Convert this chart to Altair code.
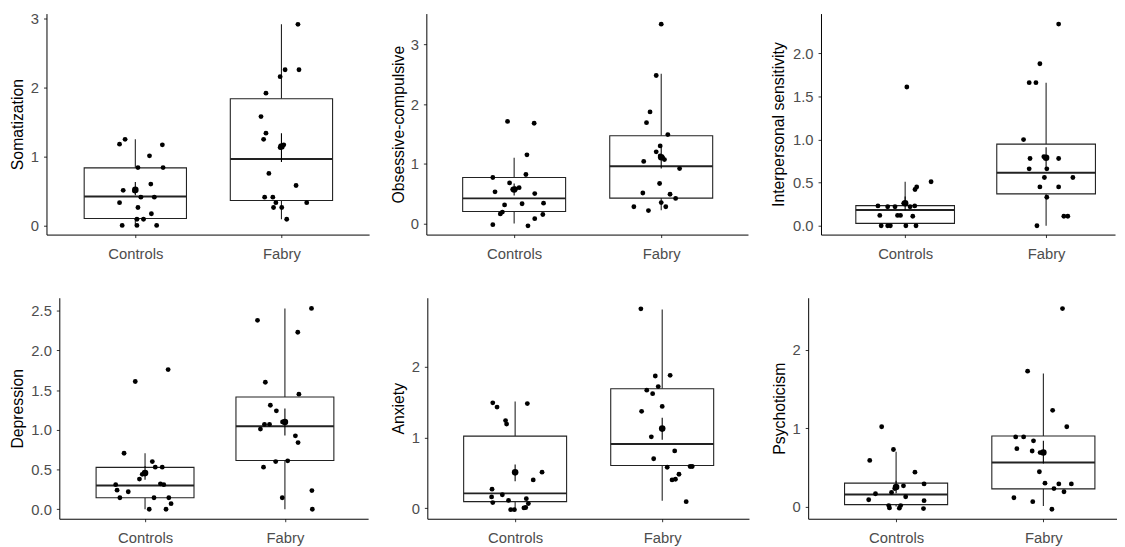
import altair as alt
import pandas as pd

GROUPS = ["Controls", "Fabry"]

# ---------------- point values (y) and horizontal jitter (in group units) ----------------
SOM_CTRL = [1.18, 1.25, 1.17, 1.01, 0.84, 0.84, 0.60, 0.51, 0.50, 0.41, 0.41, 0.33, 0.26, 0.17, 0.09, 0.09, 0.0, 0.0, 0.0]
SOM_CTRL_JIT = [-0.108, -0.07, 0.185, 0.097, 0.018, 0.19, 0.106, -0.083, -0.005, 0.038, 0.13, -0.108, 0.018, 0.11, 0.011, 0.056, -0.09, 0.011, 0.146]
SOM_FAB = [2.92, 2.26, 2.26, 2.16, 1.92, 1.58, 1.34, 1.25, 1.17, 1.13, 0.755, 0.58, 0.41, 0.41, 0.33, 0.33, 0.26, 0.26, 0.09]
SOM_FAB_JIT = [0.113, 0.025, 0.12, -0.009, -0.106, -0.14, -0.106, -0.122, 0.016, -0.009, -0.086, 0.10, -0.115, -0.059, -0.038, 0.173, -0.054, 0.002, 0.036]

OC_CTRL = [1.71, 1.68, 1.15, 0.82, 0.77, 0.68, 0.60, 0.57, 0.58, 0.53, 0.50, 0.33, 0.34, 0.31, 0.19, 0.16, 0.15, 0.08, -0.02, -0.04]
OC_CTRL_JIT = [-0.045, 0.136, 0.087, 0.08, -0.145, -0.031, 0.034, -0.01, 0.01, -0.13, 0.14, 0.054, 0.2, -0.065, -0.08, -0.094, 0.195, 0.14, -0.145, 0.094]
OC_FAB = [3.34, 2.48, 1.87, 1.69, 1.49, 1.30, 1.20, 1.13, 1.10, 1.07, 1.04, 0.92, 0.67, 0.51, 0.49, 0.42, 0.35, 0.28, 0.28, 0.215]
OC_FAB_JIT = [0.0, -0.034, -0.076, -0.10, 0.045, -0.007, -0.034, -0.007, 0.01, 0.022, -0.119, 0.125, -0.011, -0.125, 0.06, 0.098, 0.0, -0.186, 0.031, -0.087]

IS_CTRL = [1.61, 0.51, 0.45, 0.42, 0.26, 0.23, 0.22, 0.22, 0.22, 0.23, 0.12, 0.12, 0.12, 0.11, 0.0, 0.0, 0.0, 0.0, 0.0]
IS_CTRL_JIT = [0.012, 0.184, 0.082, 0.07, -0.01, -0.193, -0.124, -0.072, 0.035, 0.068, -0.18, -0.054, -0.033, 0.054, -0.17, -0.124, -0.105, 0.005, 0.077]
IS_FAB = [2.34, 1.88, 1.66, 1.66, 1.00, 0.78, 0.80, 0.79, 0.78, 0.66, 0.66, 0.56, 0.56, 0.45, 0.45, 0.33, 0.11, 0.11, 0.0]
IS_FAB_JIT = [0.089, -0.044, -0.12, -0.072, -0.16, -0.114, -0.016, 0.0, 0.089, -0.12, 0.005, -0.012, 0.19, -0.044, 0.089, 0.005, 0.126, 0.154, -0.065]

DEP_CTRL = [1.76, 1.61, 0.705, 0.60, 0.44, 0.45, 0.53, 0.53, 0.38, 0.31, 0.32, 0.31, 0.24, 0.22, 0.145, 0.145, 0.145, 0.07, 0.0, 0.0]
DEP_CTRL_JIT = [0.165, -0.07, -0.15, 0.052, -0.02, 0.0, 0.073, 0.123, -0.04, -0.21, 0.11, 0.134, -0.20, -0.12, -0.18, 0.064, 0.17, 0.186, 0.03, 0.15]
DEP_FAB = [2.53, 2.38, 2.23, 1.60, 1.45, 1.31, 1.24, 1.10, 1.07, 1.07, 1.01, 0.925, 0.84, 0.60, 0.61, 0.53, 0.235, 0.145, 0.0]
DEP_FAB_JIT = [0.19, -0.196, 0.092, -0.14, 0.1, -0.104, -0.061, -0.017, -0.146, -0.11, -0.175, 0.075, 0.094, -0.066, 0.02, -0.153, 0.193, -0.019, 0.196]

ANX_CTRL = [1.49, 1.48, 1.43, 1.24, 1.19, 0.51, 0.40, 0.27, 0.16, 0.19, 0.11, 0.135, 0.08, 0.065, 0.005, 0.01, -0.02, -0.02]
ANX_CTRL_JIT = [-0.152, 0.083, -0.123, -0.065, -0.058, 0.183, 0.123, -0.157, -0.16, -0.087, -0.045, 0.076, -0.152, 0.09, 0.06, 0.072, -0.03, -0.005]
ANX_FAB = [2.82, 1.88, 1.87, 1.72, 1.67, 1.62, 1.44, 1.37, 1.12, 1.01, 0.81, 0.70, 0.58, 0.59, 0.59, 0.48, 0.40, 0.41, 0.093]
ANX_FAB_JIT = [-0.145, 0.054, -0.047, -0.027, -0.105, -0.065, 0.0, -0.14, 0.0, -0.074, 0.085, -0.058, 0.034, 0.19, 0.204, 0.114, 0.067, 0.09, 0.163]

PSY_CTRL = [1.02, 0.73, 0.59, 0.44, 0.265, 0.23, 0.25, 0.29, 0.164, 0.18, 0.126, 0.088, 0.076, 0.013, -0.017, 0.013, -0.02, -0.025]
PSY_CTRL_JIT = [-0.098, -0.018, -0.179, 0.128, 0.05, -0.009, 0.0, 0.19, -0.14, -0.031, 0.065, -0.186, 0.19, -0.05, -0.045, 0.031, 0.022, 0.186]
PSY_FAB = [2.53, 1.73, 1.23, 1.02, 0.89, 0.89, 0.84, 0.74, 0.71, 0.69, 0.445, 0.30, 0.29, 0.29, 0.23, 0.19, 0.113, 0.063, -0.034]
PSY_FAB_JIT = [0.13, -0.107, 0.063, 0.159, -0.188, -0.134, -0.067, -0.18, -0.076, -0.022, -0.027, 0.011, 0.105, 0.19, 0.072, 0.14, -0.2, -0.072, 0.058]

# ---------------- box statistics per scale: [Controls, Fabry] ----------------
Q1 = {"Somatization": [0.10, 0.363], "Obsessive-compulsive": [0.20, 0.425], "Interpersonal sensitivity": [0.027, 0.37],
      "Depression": [0.145, 0.614], "Anxiety": [0.093, 0.605], "Psychoticism": [0.025, 0.227]}
MED = {"Somatization": [0.42, 0.965], "Obsessive-compulsive": [0.42, 0.96], "Interpersonal sensitivity": [0.183, 0.615],
       "Depression": [0.30, 1.046], "Anxiety": [0.21, 0.907], "Psychoticism": [0.155, 0.563]}
Q3 = {"Somatization": [0.836, 1.84], "Obsessive-compulsive": [0.77, 1.47], "Interpersonal sensitivity": [0.233, 0.947],
      "Depression": [0.527, 1.415], "Anxiety": [1.02, 1.69], "Psychoticism": [0.30, 0.903]}
LO = {"Somatization": [0.0, 0.09], "Obsessive-compulsive": [0.0, 0.22], "Interpersonal sensitivity": [0.0, 0.0],
      "Depression": [0.0, 0.0], "Anxiety": [0.0, 0.107], "Psychoticism": [0.0, 0.008]}
HI = {"Somatization": [1.25, 2.92], "Obsessive-compulsive": [1.10, 2.51], "Interpersonal sensitivity": [0.51, 1.66],
      "Depression": [0.705, 2.53], "Anxiety": [1.51, 2.81], "Psychoticism": [0.70, 1.70]}
MEAN = {"Somatization": [0.516, 1.147], "Obsessive-compulsive": [0.57, 1.11], "Interpersonal sensitivity": [0.26, 0.79],
        "Depression": [0.455, 1.10], "Anxiety": [0.507, 1.126], "Psychoticism": [0.25, 0.69]}
SE_LO = {"Somatization": [0.44, 0.92], "Obsessive-compulsive": [0.47, 0.92], "Interpersonal sensitivity": [0.18, 0.67],
         "Depression": [0.37, 0.93], "Anxiety": [0.38, 0.97], "Psychoticism": [0.17, 0.55]}
SE_HI = {"Somatization": [0.63, 1.34], "Obsessive-compulsive": [0.67, 1.30], "Interpersonal sensitivity": [0.34, 0.91],
         "Depression": [0.54, 1.27], "Anxiety": [0.62, 1.28], "Psychoticism": [0.33, 0.84]}

# ---------------- per-panel layout: y domain, x domain, plot width, left inset, y ticks, format, title x ----------------
PANELS = [
    ("Somatization", SOM_CTRL, SOM_CTRL_JIT, SOM_FAB, SOM_FAB_JIT, [-0.133, 3.076], [0.392, 2.60], 327, 0, [0, 1, 2, 3], "d", -24),
    ("Obsessive-compulsive", OC_CTRL, OC_CTRL_JIT, OC_FAB, OC_FAB_JIT, [-0.187, 3.518], [0.403, 2.59], 326, 0, [0, 1, 2, 3], "d", -23),
    ("Interpersonal sensitivity", IS_CTRL, IS_CTRL_JIT, IS_FAB, IS_FAB_JIT, [-0.103, 2.462], [0.403, 2.489], 298, 0, [0, 0.5, 1, 1.5, 2], ".1f", -38),
    ("Depression", DEP_CTRL, DEP_CTRL_JIT, DEP_FAB, DEP_FAB_JIT, [-0.12, 2.665], [0.387, 2.595], 326, 13, [0, 0.5, 1, 1.5, 2, 2.5], ".1f", -37),
    ("Anxiety", ANX_CTRL, ANX_CTRL_JIT, ANX_FAB, ANX_FAB_JIT, [-0.149, 2.977], [0.403, 2.59], 326, 0, [0, 1, 2], "d", -24),
    ("Psychoticism", PSY_CTRL, PSY_CTRL_JIT, PSY_FAB, PSY_FAB_JIT, [-0.155, 2.668], [0.403, 2.50], 313, 0, [0, 1, 2], "d", -24),
]

BOX_COL = "#222222"
HALF_BOX = 0.35


def panel(name, ctrl, ctrl_jit, fab, fab_jit, ydom, xdom, width, inset, yticks, yfmt, title_x):
    pts = pd.DataFrame({
        "pos": [1] * len(ctrl) + [2] * len(fab),
        "value": ctrl + fab,
        "jit": ctrl_jit + fab_jit,
    })
    box = pd.DataFrame({
        "pos": [1, 2],
        "group": GROUPS,
        "q1": Q1[name], "med": MED[name], "q3": Q3[name],
        "lo": LO[name], "hi": HI[name],
        "mean": MEAN[name], "se_lo": SE_LO[name], "se_hi": SE_HI[name],
    })
    if inset:
        xscale = alt.Scale(domain=xdom, nice=False, zero=False, range=[inset, width])
        yaxis = alt.Axis(values=yticks, format=yfmt, title=name, grid=False, offset=-inset,
                         titleX=title_x, titleBaseline="alphabetic")
    else:
        xscale = alt.Scale(domain=xdom, nice=False, zero=False)
        yaxis = alt.Axis(values=yticks, format=yfmt, title=name, grid=False,
                         titleX=title_x, titleBaseline="alphabetic")
    yscale = alt.Scale(domain=ydom, nice=False, zero=False)
    xaxis = alt.Axis(values=[1, 2], labelExpr="datum.value == 1 ? 'Controls' : 'Fabry'",
                     title=None, grid=False)

    def X(f):
        return alt.X(f, type="quantitative", scale=xscale, axis=xaxis)

    def Y(f):
        return alt.Y(f, type="quantitative", scale=yscale, axis=yaxis)

    b = alt.Chart(box).transform_calculate(
        xl=f"datum.pos - {HALF_BOX}", xr=f"datum.pos + {HALF_BOX}")
    whisk_lo = b.mark_rule(color=BOX_COL, strokeWidth=1.1).encode(x=X("pos"), y=Y("lo"), y2="q1:Q")
    whisk_hi = b.mark_rule(color=BOX_COL, strokeWidth=1.1).encode(x=X("pos"), y=Y("q3"), y2="hi:Q")
    rect = b.mark_rect(fill="white", stroke=BOX_COL, strokeWidth=1.1).encode(
        x=X("xl"), x2="xr:Q", y=Y("q1"), y2="q3:Q")
    med = b.mark_rule(color=BOX_COL, strokeWidth=2).encode(x=X("xl"), x2="xr:Q", y=Y("med"))
    points = alt.Chart(pts).transform_calculate(xj="datum.pos + datum.jit").mark_circle(
        size=24, color="black", opacity=1).encode(x=X("xj"), y=Y("value"))
    se = b.mark_rule(color="black", strokeWidth=1.1).encode(x=X("pos"), y=Y("se_lo"), y2="se_hi:Q")
    mean = b.mark_circle(size=44, color="black", opacity=1).encode(x=X("pos"), y=Y("mean"))
    return alt.layer(whisk_lo, whisk_hi, rect, med, points, se, mean).properties(width=width, height=224)


charts = [panel(*p) for p in PANELS]

row1 = alt.hconcat(charts[0], charts[1], charts[2], spacing=22)
row2 = alt.hconcat(charts[3], charts[4], charts[5], spacing=23)

chart = alt.vconcat(row1, row2, spacing=37).properties(
    padding={"left": 2, "top": 0, "right": 0, "bottom": 0}
).configure_axis(
    domainColor="black", domainWidth=1,
    tickColor="#333333", tickSize=3, tickWidth=1,
    labelFont="Liberation Sans", labelFontSize=15, labelColor="#4D4D4D", labelPadding=5,
    titleFont="Liberation Sans", titleFontSize=16, titleFontWeight="normal", titleColor="black",
    grid=False,
).configure_axisX(labelPadding=9).configure_view(strokeWidth=0)

chart.save("out.html", embed_options={"renderer": "svg", "actions": False})
